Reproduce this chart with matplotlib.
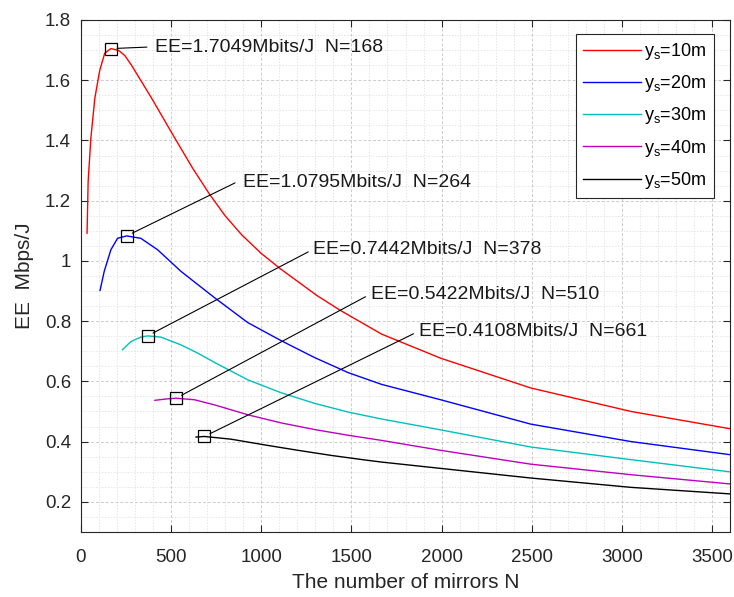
import numpy as np
import matplotlib
matplotlib.use("Agg")
import matplotlib.pyplot as plt
from matplotlib.ticker import MultipleLocator, FormatStrFormatter

plt.rcParams['font.family'] = ['Liberation Sans', 'DejaVu Sans']
plt.rcParams['mathtext.fontset'] = 'custom'
plt.rcParams['mathtext.rm'] = 'Liberation Sans'

# data (N, EE in Mbps/J)
n_10 = [35, 41, 56, 78, 105, 133, 167, 210, 244, 281, 393, 522, 620, 713, 800, 893, 1000, 1106, 1309, 1435, 1667, 1994, 2494, 3050, 3605]
ee_10 = [1.092, 1.263, 1.407, 1.540, 1.632, 1.690, 1.705, 1.699, 1.682, 1.650, 1.540, 1.407, 1.308, 1.222, 1.150, 1.086, 1.025, 0.974, 0.885, 0.837, 0.757, 0.677, 0.578, 0.500, 0.442]

n_20 = [107, 130, 167, 204, 254, 333, 426, 556, 741, 926, 1111, 1296, 1482, 1667, 1994, 2494, 3050, 3605]
ee_20 = [0.902, 0.965, 1.037, 1.075, 1.083, 1.075, 1.037, 0.965, 0.878, 0.795, 0.735, 0.679, 0.629, 0.590, 0.539, 0.458, 0.400, 0.356]

n_30 = [231, 278, 333, 370, 444, 556, 648, 741, 926, 1111, 1296, 1482, 1667, 1994, 2494, 3050, 3605]
ee_30 = [0.705, 0.732, 0.747, 0.751, 0.747, 0.721, 0.694, 0.663, 0.605, 0.562, 0.527, 0.498, 0.475, 0.439, 0.382, 0.340, 0.299]

n_40 = [411, 481, 528, 630, 741, 926, 1111, 1296, 1482, 1667, 1994, 2494, 3050, 3605]
ee_40 = [0.537, 0.542, 0.544, 0.539, 0.522, 0.489, 0.462, 0.440, 0.421, 0.404, 0.371, 0.325, 0.290, 0.259]

n_50 = [639, 685, 833, 1019, 1204, 1389, 1574, 1667, 1994, 2494, 3050, 3605]
ee_50 = [0.415, 0.417, 0.408, 0.389, 0.371, 0.354, 0.339, 0.332, 0.311, 0.279, 0.248, 0.226]

labels = ['$\\mathregular{y_s}$=10m', '$\\mathregular{y_s}$=20m', '$\\mathregular{y_s}$=30m',
          '$\\mathregular{y_s}$=40m', '$\\mathregular{y_s}$=50m']
colors = ['r', 'b', 'c', 'm', 'k']

# peak markers
peak_n = [167, 254, 370, 528, 685]
peak_ee = [1.705, 1.083, 0.751, 0.544, 0.417]
peak_text = ['EE=1.7049Mbits/J  N=168', 'EE=1.0795Mbits/J  N=264', 'EE=0.7442Mbits/J  N=378',
             'EE=0.5422Mbits/J  N=510', 'EE=0.4108Mbits/J  N=661']

# where the leader lines end / text starts (layout)
line_end = [(367, 1.710), (855, 1.259), (1261, 1.030), (1578, 0.881), (1844, 0.758)]
text_pos = [(411, 1.710), (900, 1.262), (1289, 1.037), (1606, 0.890), (1872, 0.764)]

fig = plt.figure(figsize=(7.34, 5.97), dpi=100)
ax = fig.add_axes([0.110, 0.109, 0.885, 0.8575])

curves = [(n_10, ee_10), (n_20, ee_20), (n_30, ee_30), (n_40, ee_40), (n_50, ee_50)]
for (n, ee), c, lab in zip(curves, colors, labels):
    ax.plot(n, ee, color=c, lw=1.0, label=lab)

ax.plot(peak_n, peak_ee, 's', ms=9, mfc='none', mec='k', mew=0.9, ls='none')

for i in range(len(peak_n)):
    ax.annotate('', xy=(peak_n[i], peak_ee[i]), xytext=line_end[i],
                arrowprops=dict(arrowstyle='-', color='k', lw=0.8, shrinkA=0, shrinkB=4.5))
    ax.text(text_pos[i][0], text_pos[i][1], peak_text[i], fontsize=14, color='#1a1a1a',
            ha='left', va='center')

ax.set_xlim(0, 3600)
ax.set_ylim(0.1, 1.8)
ax.set_xticks(np.arange(0, 3501, 500))
ax.set_yticks(np.arange(0.2, 1.81, 0.2))
ax.yaxis.set_major_formatter(FormatStrFormatter('%g'))
ax.xaxis.set_minor_locator(MultipleLocator(100))
ax.yaxis.set_minor_locator(MultipleLocator(0.05))

ax.grid(True, which='major', color='#cccccc', lw=0.7, ls=(0, (3, 2)))
ax.grid(True, which='minor', color='#dddddd', lw=0.6, ls=(0, (1.5, 2)))
ax.set_axisbelow(True)

ax.tick_params(which='major', direction='in', top=True, right=True, length=5,
               labelsize=13.5, colors='#262626', width=0.8)
ax.tick_params(axis='x', which='major', pad=12)
ax.tick_params(axis='y', which='major', pad=7)
ax.tick_params(which='minor', length=0, top=True, right=True)
for s in ax.spines.values():
    s.set_color('#262626')
    s.set_linewidth(0.8)

ax.set_xlabel('The number of mirrors N', fontsize=15, color='#262626', labelpad=5)
ax.set_ylabel('EE  Mbps/J', fontsize=15, color='#262626', labelpad=8)

leg = ax.legend(loc='upper right', bbox_to_anchor=(0.975, 0.973), fontsize=13,
                fancybox=False, edgecolor='#262626', framealpha=1, handlelength=3.2,
                handletextpad=0.2, labelspacing=0.62, borderpad=0.4, borderaxespad=0)
leg.get_frame().set_linewidth(0.8)

fig.savefig('out.png', dpi=100)
